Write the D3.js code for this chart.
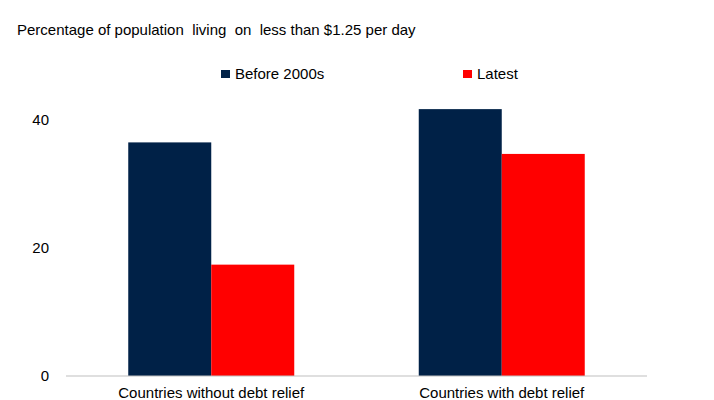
<!DOCTYPE html>
<html><head><meta charset="utf-8">
<script src="https://cdn.jsdelivr.net/npm/d3@7"></script>
<style>body{margin:0;background:#fff}svg{display:block;font-family:"Liberation Sans",Arial,sans-serif}</style>
</head><body>
<script>
const categories = ["Countries without debt relief", "Countries with debt relief"];
const seriesNames = ["Before 2000s", "Latest"];
const before2000s = [36.5, 41.7];
const latest = [17.4, 34.7];
const yTicks = [0, 20, 40];
const titleText = "Percentage of population  living  on  less than $1.25 per day";
const colors = ["#002147", "#FF0000"];

const W = 714, H = 400;
const svg = d3.select("body").append("svg").attr("width", W).attr("height", H);

const x0 = d3.scaleBand().domain(categories).range([66, 647]).paddingInner(0).paddingOuter(0);
const y = d3.scaleLinear().domain([0, 40]).range([376, 120]);
const x1 = d3.scaleBand().domain(seriesNames).range([0, 166]);
const groupOffset = (x0.bandwidth() - 166) / 2;

const data = categories.map((c, i) => ({cat: c, vals: [before2000s[i], latest[i]]}));

svg.append("text").attr("x", 17).attr("y", 35).attr("font-size", 15).attr("fill", "#000")
  .style("white-space", "pre").attr("xml:space", "preserve").text(titleText);

// legend
const legX = [221, 463];
seriesNames.forEach((s, i) => {
  svg.append("rect").attr("x", legX[i]).attr("y", 70).attr("width", 9).attr("height", 8).attr("fill", colors[i]);
  svg.append("text").attr("x", legX[i] + 14).attr("y", 79).attr("font-size", 15).attr("fill", "#000").text(s);
});

// y tick labels
svg.append("g").selectAll("text").data(yTicks).join("text")
  .attr("x", 49).attr("y", d => y(d) + 5).attr("text-anchor", "end")
  .attr("font-size", 15).attr("fill", "#000").text(d => d);

// bars
const g = svg.append("g").selectAll("g").data(data).join("g")
  .attr("transform", d => `translate(${x0(d.cat) + groupOffset},0)`);
g.selectAll("rect").data(d => d.vals.map((v, i) => ({v, s: seriesNames[i], i}))).join("rect")
  .attr("x", d => x1(d.s)).attr("width", x1.bandwidth())
  .attr("y", d => y(d.v)).attr("height", d => y(0) - y(d.v))
  .attr("fill", d => colors[d.i]);

// x axis line
svg.append("line").attr("x1", 66).attr("x2", 647).attr("y1", 376).attr("y2", 376)
  .attr("stroke", "#BFBFBF").attr("stroke-width", 1.2);

// category labels
svg.append("g").selectAll("text").data(categories).join("text")
  .attr("x", d => x0(d) + x0.bandwidth() / 2).attr("y", 398).attr("text-anchor", "middle")
  .attr("font-size", 15).attr("fill", "#000").text(d => d);
</script>
</body></html>
